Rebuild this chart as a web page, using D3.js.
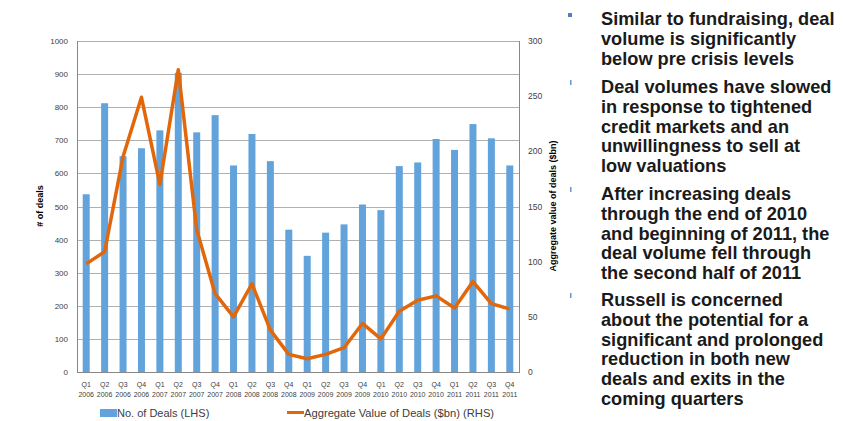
<!DOCTYPE html>
<html>
<head>
<meta charset="utf-8">
<script src="https://cdn.jsdelivr.net/npm/d3@7"></script>
<style>
  body { margin:0; background:#fff; }
  text { font-family: "Liberation Sans", Arial, sans-serif; }
</style>
</head>
<body>
<div id="chart"></div>
<script>
const width = 843;
const height = 421;

const quarters = ['Q1','Q2','Q3','Q4','Q1','Q2','Q3','Q4','Q1','Q2','Q3','Q4',
                  'Q1','Q2','Q3','Q4','Q1','Q2','Q3','Q4','Q1','Q2','Q3','Q4']
const years = ['2006','2006','2006','2006','2007','2007','2007','2007','2008','2008','2008','2008',
               '2009','2009','2009','2009','2010','2010','2010','2010','2011','2011','2011','2011']
const dealCounts = [537,812,652,676,730,904,724,776,624,719,637,430,
                    351,421,446,506,489,622,633,704,671,749,706,624]
const dealValues = [98,109,195,249,170,274,129,71,50,80,38,16,
                    12,16,22,44,30,55,65,69,58,82,62,57]
const leftTicks = [0,100,200,300,400,500,600,700,800,900,1000]
const rightTicks = [0,50,100,150,200,250,300]
const bullets = [
  ['Similar to fundraising, deal','volume is significantly','below pre crisis levels'],
  ['Deal volumes have slowed','in response to tightened','credit markets and an','unwillingness to sell at','low valuations'],
  ['After increasing deals','through the end of 2010','and beginning of 2011, the','deal volume fell through','the second half of 2011'],
  ['Russell is concerned','about the potential for a','significant and prolonged','reduction in both new','deals and exits in the','coming quarters']
]

const keys = quarters.map((q,i)=> i)
const plot = {left:77, right:519, top:41, bottom:372}

const x = d3.scaleBand().domain(keys).range([plot.left, plot.right])
            .paddingInner(0.62).paddingOuter(0.31)
const yLeft = d3.scaleLinear().domain([0,1000]).range([plot.bottom, plot.top])
const yRight = d3.scaleLinear().domain([0,300]).range([plot.bottom, plot.top])

const svg = d3.select('#chart')
  .append('svg')
  .attr('width', width)
  .attr('height', height)

// gridlines
svg.append('g')
  .selectAll('line')
  .data(leftTicks.slice(1))
  .enter()
    .append('line')
    .attr('x1', plot.left).attr('x2', plot.right)
    .attr('y1', d=> Math.round(yLeft(d))+0.5).attr('y2', d=> Math.round(yLeft(d))+0.5)
    .attr('stroke', '#b0b0b0').attr('stroke-width', 1)

// bars
svg.append('g')
  .selectAll('rect')
  .data(dealCounts)
  .enter()
    .append('rect')
    .attr('x', (d,i)=> x(i))
    .attr('width', x.bandwidth())
    .attr('y', d=> yLeft(d))
    .attr('height', d=> yLeft(0)-yLeft(d))
    .attr('fill', '#62a3dc')

// axes lines
const axisColor = '#888'
svg.append('line').attr('x1', plot.left+0.5).attr('x2', plot.left+0.5)
  .attr('y1', plot.top).attr('y2', plot.bottom).attr('stroke', axisColor)
svg.append('line').attr('x1', plot.right+0.5).attr('x2', plot.right+0.5)
  .attr('y1', plot.top).attr('y2', plot.bottom).attr('stroke', axisColor)
svg.append('line').attr('x1', plot.left).attr('x2', plot.right+1)
  .attr('y1', plot.bottom+0.5).attr('y2', plot.bottom+0.5).attr('stroke', axisColor)

// line series
const line = d3.line()
  .x((d,i)=> x(i)+x.bandwidth()/2)
  .y(d=> yRight(d))

svg.append('path')
  .datum(dealValues)
  .attr('d', line)
  .attr('fill', 'none')
  .attr('stroke', '#e2670a')
  .attr('stroke-width', 3.5)
  .attr('stroke-linejoin', 'round')

// left tick labels
svg.append('g')
  .selectAll('text')
  .data(leftTicks)
  .enter()
    .append('text')
    .attr('x', 68)
    .attr('y', d=> yLeft(d)+3)
    .attr('text-anchor', 'end')
    .attr('font-size', 8)
    .attr('fill', '#404040')
    .text(d=> d)

// right tick labels
svg.append('g')
  .selectAll('text')
  .data(rightTicks)
  .enter()
    .append('text')
    .attr('x', 528)
    .attr('y', d=> yRight(d)+3)
    .attr('font-size', 8.5)
    .attr('fill', '#404040')
    .text(d=> d)

// x labels
const xl = svg.append('g')
  .selectAll('text')
  .data(keys)
  .enter()
    .append('text')
    .attr('text-anchor', 'middle')
    .attr('font-size', 7)
    .attr('fill', '#404040')
xl.append('tspan').attr('x', d=> x(d)+x.bandwidth()/2).attr('y', 387).text(d=> quarters[d])
xl.append('tspan').attr('x', d=> x(d)+x.bandwidth()/2).attr('y', 396.5).text(d=> years[d])

// axis titles
svg.append('text')
  .attr('transform', 'translate(43,206) rotate(-90)')
  .attr('text-anchor', 'middle')
  .attr('font-size', 9)
  .attr('font-weight', 'bold')
  .attr('fill', '#000')
  .text('# of deals')

svg.append('text')
  .attr('transform', 'translate(556,206) rotate(-90)')
  .attr('text-anchor', 'middle')
  .attr('font-size', 9)
  .attr('font-weight', 'bold')
  .attr('fill', '#000')
  .text('Aggregate value of deals ($bn)')

// legend
svg.append('rect').attr('x', 100).attr('y', 409).attr('width', 17).attr('height', 8).attr('fill', '#62a3dc')
svg.append('text').attr('x', 117).attr('y', 417).attr('font-size', 11).attr('fill', '#404040')
  .text('No. of Deals (LHS)')
svg.append('line').attr('x1', 287).attr('x2', 304).attr('y1', 412.5).attr('y2', 412.5)
  .attr('stroke', '#e2670a').attr('stroke-width', 3)
svg.append('text').attr('x', 304).attr('y', 417).attr('font-size', 11.2).attr('fill', '#404040')
  .text('Aggregate Value of Deals ($bn) (RHS)')

// bullet text
const lineH = 19.8
const bulletStart = [25, 93, 200, 306]
bullets.forEach((lines, b)=>{
  const y0 = bulletStart[b]
  if (b === 0) {
    svg.append('rect').attr('x', 568).attr('y', y0-12).attr('width', 4).attr('height', 4).attr('fill', '#4f81bd')
  } else {
    svg.append('rect').attr('x', 570).attr('y', y0-13).attr('width', 1.5).attr('height', 5).attr('fill', '#6b96c8')
  }
  svg.append('g')
    .selectAll('text')
    .data(lines)
    .enter()
      .append('text')
      .attr('x', 601)
      .attr('y', (d,i)=> y0 + i*lineH)
      .attr('font-size', 18.2)
      .attr('font-weight', 'bold')
      .attr('fill', '#1a1a1a')
      .text(d=> d)
})
</script>
</body>
</html>
